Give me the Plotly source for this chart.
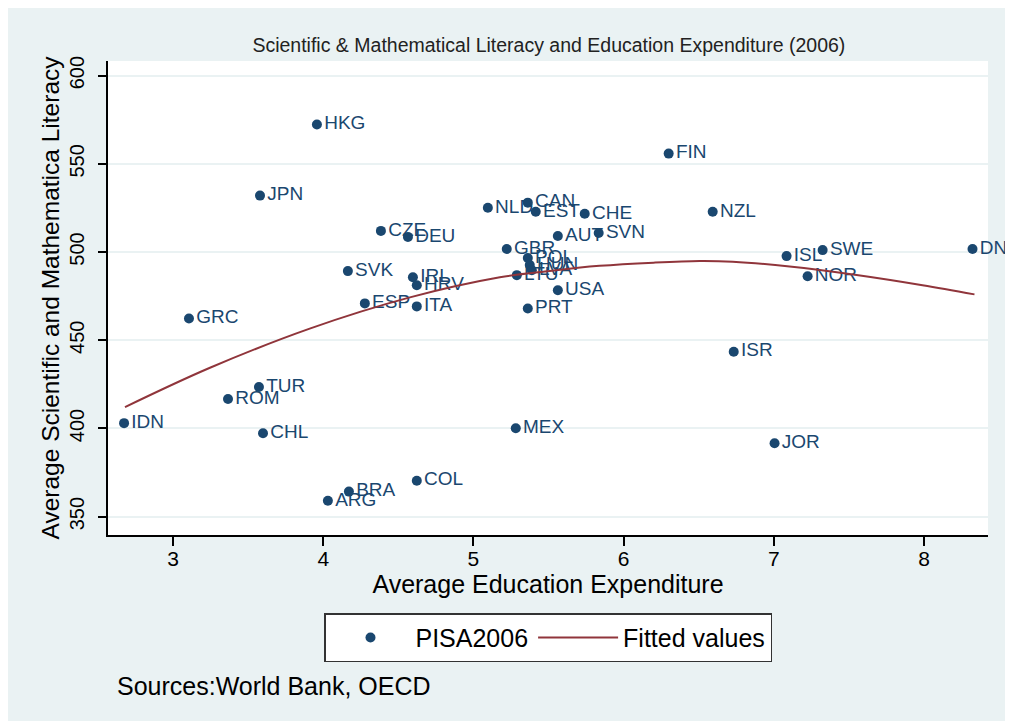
import plotly.graph_objects as go

# ---- data ----
countries = ["HKG", "FIN", "JPN", "NZL", "CAN", "NLD", "EST", "CHE", "AUT", "SVN",
             "CZE", "DEU", "GBR", "POL", "HUN", "LVA", "LTU", "USA", "PRT", "SVK",
             "IRL", "HRV", "ESP", "ITA", "GRC", "ISL", "SWE", "NOR", "DNK", "ISR",
             "JOR", "MEX", "TUR", "ROM", "IDN", "CHL", "COL", "BRA", "ARG"]
expenditure = [3.958, 6.30, 3.579, 6.593, 5.362, 5.096, 5.415, 5.741, 5.562, 5.834,
               4.384, 4.564, 5.222, 5.362, 5.375, 5.389, 5.289, 5.562, 5.362, 4.164,
               4.597, 4.623, 4.277, 4.623, 3.106, 7.085, 7.325, 7.225, 8.323, 6.733,
               7.005, 5.282, 3.572, 3.366, 2.674, 3.599, 4.623, 4.171, 4.031]
literacy = [572.3, 555.8, 532.0, 522.8, 528.0, 525.1, 522.8, 521.7, 509.1, 510.8,
            512.0, 508.6, 501.7, 496.6, 492.6, 489.7, 486.9, 478.3, 468.0, 489.2,
            485.7, 481.2, 470.9, 469.2, 462.3, 497.7, 501.1, 486.3, 501.7, 443.5,
            391.6, 400.1, 423.5, 416.7, 403.0, 397.3, 370.4, 364.2, 359.0]

fit_x = [2.68, 3.246, 3.91, 4.577, 5.176, 5.508, 5.84, 6.20, 6.506, 6.726, 7.105, 7.551, 7.99, 8.336]
fit_y = [412.1, 434.4, 456.6, 474.3, 485.7, 489.3, 492.2, 494.0, 494.9, 494.5, 491.8, 487.0, 481.2, 476.0]

x_ticks = [3, 4, 5, 6, 7, 8]
y_ticks = [350, 400, 450, 500, 550, 600]

NAVY = "#1a476f"
MAROON = "#90353b"
BG = "#eaf2f3"
FONT = "Liberation Sans, Arial, sans-serif"

W, H = 1005, 713  # page adds an 8px body margin on the left/top

fig = go.Figure()
fig.add_trace(go.Scatter(
    x=expenditure, y=literacy, mode="markers+text", text=countries,
    textposition="middle right", name="PISA2006", cliponaxis=False,
    marker=dict(color=NAVY, size=10),
    textfont=dict(color=NAVY, size=19, family=FONT),
))
fig.add_trace(go.Scatter(
    x=fit_x, y=fit_y, mode="lines", name="Fitted values",
    line=dict(color=MAROON, width=2, shape="spline"),
))

fig.update_layout(
    width=W, height=H,
    paper_bgcolor=BG, plot_bgcolor="white",
    margin=dict(l=100, r=25, t=53, b=186),
    font=dict(family=FONT, color="black"),
    title=dict(text="Scientific & Mathematical Literacy and Education Expenditure (2006)",
               x=0.501, xref="paper", xanchor="center", y=1 - 37 / H, yanchor="middle",
               font=dict(size=19.5, color="#222")),
    showlegend=True,
    legend=dict(orientation="h", x=0.50, xanchor="center", y=-0.165, yanchor="top",
                bgcolor="white", bordercolor="#333", borderwidth=1.5,
                font=dict(size=25, color="black"), itemwidth=80),
    annotations=[dict(text="Sources:World Bank, OECD", xref="paper", yref="paper",
                      x=0.008, y=-0.3186, xanchor="left", yanchor="middle",
                      showarrow=False, font=dict(size=25, color="black"))],
)
fig.update_xaxes(
    range=[2.567, 8.426], tickvals=x_ticks, ticks="outside", ticklen=9, tickwidth=1.5,
    tickcolor="black", showline=True, linecolor="black", linewidth=1.5,
    showgrid=False, zeroline=False, tickfont=dict(size=21), ticklabelstandoff=-5,
    title=dict(text="Average Education Expenditure", font=dict(size=25), standoff=0),
)
fig.update_yaxes(
    range=[339.6, 608.3], tickvals=y_ticks, ticks="outside", ticklen=8, tickwidth=1.5,
    tickcolor="black", showline=True, linecolor="black", linewidth=1.5,
    showgrid=True, gridcolor=BG, gridwidth=2, zeroline=False,
    tickangle=-90, tickfont=dict(size=20), ticklabelstandoff=6,
    title=dict(text="Average Scientific and Mathematica Literacy", font=dict(size=24.5), standoff=0),
)

fig.write_html("out.html")
